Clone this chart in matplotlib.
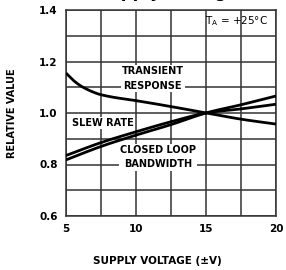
import numpy as np
import matplotlib
matplotlib.use('Agg')
import matplotlib.pyplot as plt

plt.rcParams['font.family'] = ['DejaVu Sans']
plt.rcParams['font.weight'] = 'bold'

# supply voltage (+-V)
volts_tr = [5, 5.5, 6, 6.5, 7, 7.5, 8.5, 10, 12.5, 15, 17.5, 20]
transient = [1.155, 1.128, 1.107, 1.092, 1.080, 1.071, 1.060, 1.048, 1.025, 1.0, 0.976, 0.957]
volts = [5, 7.5, 10, 12.5, 15, 17.5, 20]
slew_rate = [0.835, 0.885, 0.927, 0.966, 1.0, 1.016, 1.034]
bandwidth = [0.818, 0.870, 0.914, 0.955, 1.0, 1.032, 1.066]

x_ticks = [5, 10, 15, 20]
y_ticks = [0.6, 0.8, 1.0, 1.2, 1.4]


def smooth(xs, ys, n=20):
    # catmull-rom through the read points
    pts = np.column_stack([xs, ys]).astype(float)
    pts = np.vstack([2 * pts[0] - pts[1], pts, 2 * pts[-1] - pts[-2]])
    out = []
    t = np.linspace(0, 1, n)[:, None]
    for i in range(1, len(pts) - 2):
        p0, p1, p2, p3 = pts[i - 1], pts[i], pts[i + 1], pts[i + 2]
        seg = 0.5 * ((2 * p1) + (-p0 + p2) * t + (2 * p0 - 5 * p1 + 4 * p2 - p3) * t ** 2
                     + (-p0 + 3 * p1 - 3 * p2 + p3) * t ** 3)
        out.append(seg)
    out = np.vstack(out)
    return out[:, 0], out[:, 1]


fig = plt.figure(figsize=(2.86, 2.70), dpi=100)
ax = fig.add_axes([66 / 286, 54 / 270, 210 / 286, 206 / 270])

for xs, ys in ((volts_tr, transient), (volts, slew_rate), (volts, bandwidth)):
    xx, yy = smooth(xs, ys)
    ax.plot(xx, yy, color='black', lw=2.0, solid_capstyle='butt', zorder=3)

ax.set_xlim(5, 20)
ax.set_ylim(0.6, 1.4)
ax.set_xticks(np.arange(5, 20.1, 2.5), minor=True)
ax.set_yticks(np.arange(0.6, 1.41, 0.1), minor=True)
ax.set_xticks(x_ticks)
ax.set_yticks(y_ticks)
ax.set_xticklabels([str(v) for v in x_ticks])
ax.set_yticklabels(['%.1f' % v for v in y_ticks])
ax.grid(True, which='both', color='#333333', lw=1.1)
ax.tick_params(which='both', length=0, labelsize=7.5, pad=6)
for s in ax.spines.values():
    s.set_linewidth(1.1)
    s.set_color('#333333')

box = dict(facecolor='white', edgecolor='none', pad=0.8)
lab = dict(fontsize=7, fontweight='bold', ha='center', va='center', zorder=4,
           linespacing=1.6)
ax.text(11.2, 1.134, 'TRANSIENT\nRESPONSE', bbox=box, **lab)
ax.text(7.65, 0.961, 'SLEW RATE', bbox=box, **lab)
ax.text(11.6, 0.829, 'CLOSED LOOP\nBANDWIDTH', bbox=box, **lab)
ax.text(17.2, 1.358, '$\\mathregular{T_A}$ = +25°C', fontsize=7.5,
        fontweight='normal', ha='center', va='center', zorder=4)

fig.text(12 / 286, 1 - 113 / 270, 'RELATIVE VALUE', rotation=90,
         fontsize=7, fontweight='bold', ha='center', va='center')
fig.text(157 / 286, 1 - 261 / 270, 'SUPPLY VOLTAGE (±V)',
         fontsize=7.5, fontweight='bold', ha='center', va='center')
# title line mostly above the crop, only descenders show
fig.text(168 / 286, 1 + 3 / 270, 'Supply Voltage', fontsize=12,
         fontweight='bold', ha='center', va='baseline')

fig.savefig('out.png', dpi=100)
